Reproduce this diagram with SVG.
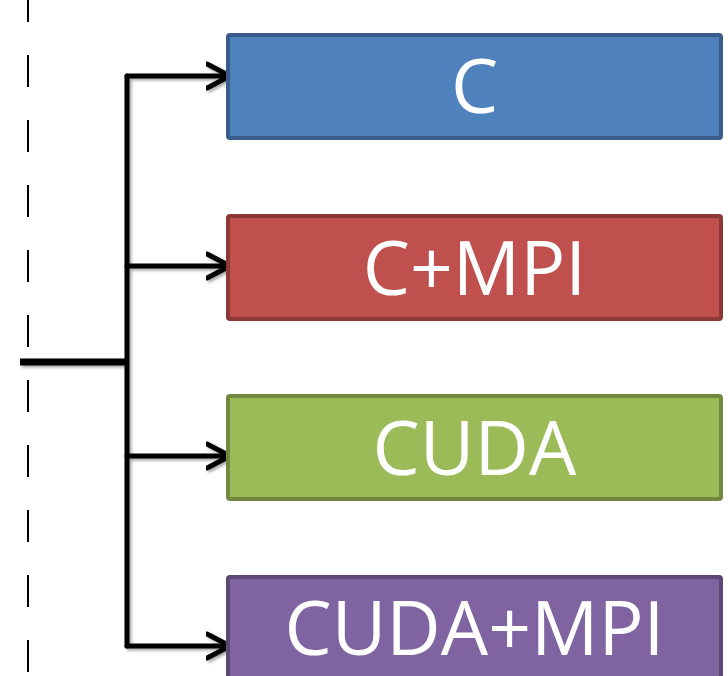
<svg xmlns="http://www.w3.org/2000/svg" width="728" height="676" viewBox="0 0 728 676">
  <style>
    .box { stroke-width: 4; }
    .label { font-family: "Open Sans", "Liberation Sans", sans-serif; font-size: 75px; fill: #ffffff; text-anchor: middle; }
    .wire { fill: none; stroke: #000000; stroke-width: 5; stroke-linecap: round; stroke-linejoin: round; }
  </style>
  <defs>
    <filter id="shadow" x="-10%" y="-10%" width="130%" height="130%">
      <feDropShadow dx="2" dy="2" stdDeviation="1.6" flood-color="#000000" flood-opacity="0.35"/>
    </filter>
    <marker id="chevron" viewBox="0 0 30 30" refX="24" refY="15" markerWidth="30" markerHeight="30" markerUnits="userSpaceOnUse" orient="auto">
      <path d="M1,3 L24,15 L1,27" fill="none" stroke="#000000" stroke-width="5" stroke-linecap="round" stroke-linejoin="round"/>
    </marker>
  </defs>

  <rect width="728" height="676" fill="#ffffff"/>

  <!-- dashed divider -->
  <line x1="28" y1="0" x2="28" y2="676" stroke="#000000" stroke-width="2" stroke-dasharray="32 33" stroke-dashoffset="10"/>

  <!-- connectors -->
  <g id="connectors" filter="url(#shadow)">
    <line x1="20" y1="362" x2="127" y2="362" stroke="#000000" stroke-width="7"/>
    <line class="wire" x1="127" y1="76" x2="127" y2="646"/>
    <line class="wire" x1="127" y1="76" x2="230" y2="76" marker-end="url(#chevron)"/>
    <line class="wire" x1="127" y1="266" x2="230" y2="266" marker-end="url(#chevron)"/>
    <line class="wire" x1="127" y1="456" x2="230" y2="456" marker-end="url(#chevron)"/>
    <line class="wire" x1="127" y1="646" x2="230" y2="646" marker-end="url(#chevron)"/>
  </g>

  <g id="node-c">
    <rect class="box" x="228" y="35" width="493" height="103" rx="2" fill="#4F81BD" stroke="#385D8A"/>
    <text class="label" x="474.5" y="113">C</text>
  </g>

  <g id="node-c-mpi">
    <rect class="box" x="228" y="216" width="493" height="103" rx="2" fill="#C0504D" stroke="#8C3836"/>
    <text class="label" x="474.5" y="295">C+MPI</text>
  </g>

  <g id="node-cuda">
    <rect class="box" x="228" y="396" width="493" height="103" rx="2" fill="#9BBB59" stroke="#71893F"/>
    <text class="label" x="474.5" y="475">CUDA</text>
  </g>

  <g id="node-cuda-mpi">
    <rect class="box" x="228" y="577" width="493" height="103" rx="2" fill="#8064A2" stroke="#5C4776"/>
    <text class="label" x="474.5" y="655">CUDA+MPI</text>
  </g>
</svg>
